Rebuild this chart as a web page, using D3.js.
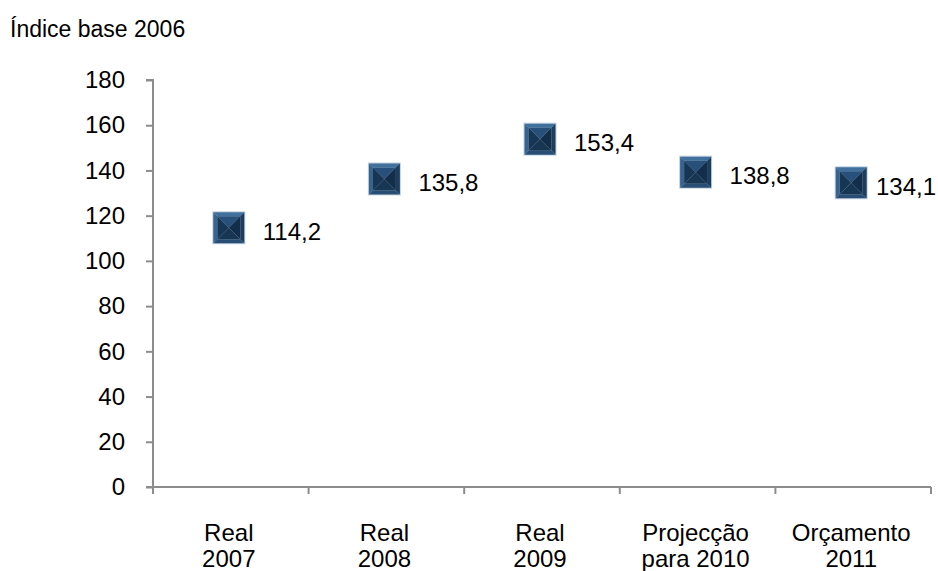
<!DOCTYPE html>
<html>
<head>
<meta charset="utf-8">
<script src="https://cdn.jsdelivr.net/npm/d3@7"></script>
<style>
  html, body { margin: 0; padding: 0; background: #fff; }
  svg { display: block; font-family: Arial, "Liberation Sans", sans-serif; }
</style>
</head>
<body>
<svg id="chart" width="938" height="571"></svg>
<script>
// Index values (base 2006 = 100)
const categories = [["Real", "2007"], ["Real", "2008"], ["Real", "2009"], ["Projecção", "para 2010"], ["Orçamento", "2011"]];
const values = [114.2, 135.8, 153.4, 138.8, 134.1];
const valueLabels = ["114,2", "135,8", "153,4", "138,8", "134,1"];
const yTicks = [0, 20, 40, 60, 80, 100, 120, 140, 160, 180];
const yTitle = "Índice base 2006";

const W = 938, H = 571;
const svg = d3.select("#chart");
const plot = { left: 153, right: 931, top: 80, bottom: 487 };

const x = d3.scaleBand()
  .domain(d3.range(categories.length))
  .range([plot.left, plot.right])
  .paddingInner(0).paddingOuter(0);

const y = d3.scaleLinear().domain([0, 180]).range([plot.bottom, plot.top]);

const axisColor = "#8c8c8c";

// Title
svg.append("text")
  .attr("x", 10).attr("y", 37)
  .attr("font-size", 23).attr("fill", "#000")
  .text(yTitle);

// Y axis
const yAxis = svg.append("g")
  .attr("transform", `translate(${plot.left},0)`)
  .call(d3.axisLeft(y).tickValues(yTicks).tickSize(7).tickPadding(21).tickFormat(d3.format("d")));
yAxis.select(".domain").attr("stroke", axisColor).attr("stroke-width", 2)
  .attr("d", `M-7,${plot.top}H0V${plot.bottom + 7}`);
yAxis.selectAll(".tick line").attr("stroke", axisColor).attr("stroke-width", 2);
yAxis.selectAll(".tick text").attr("font-size", 24).attr("fill", "#000")
  .attr("font-family", "Arial, 'Liberation Sans', sans-serif");

// X axis: ticks at category boundaries
const boundaries = d3.range(categories.length + 1).map(i => plot.left + i * x.step());
const xg = svg.append("g");
xg.append("line")
  .attr("x1", plot.left - 7).attr("x2", plot.right)
  .attr("y1", plot.bottom).attr("y2", plot.bottom)
  .attr("stroke", axisColor).attr("stroke-width", 2);
xg.selectAll("line.tk").data(boundaries.slice(1)).join("line")
  .attr("class", "tk")
  .attr("x1", d => d).attr("x2", d => d)
  .attr("y1", plot.bottom).attr("y2", plot.bottom + 7)
  .attr("stroke", axisColor).attr("stroke-width", 2);

xg.selectAll("text.cat").data(categories).join("text")
  .attr("class", "cat")
  .attr("text-anchor", "middle")
  .attr("font-size", 24).attr("fill", "#000")
  .each(function(d, i) {
    const t = d3.select(this);
    d.forEach((line, k) => {
      t.append("tspan")
        .attr("x", x(i) + x.bandwidth() / 2 - 2)
        .attr("y", 541 + k * 26)
        .text(line);
    });
  });

// Bevelled square marker
const s = 31, b = 4;
function facet(pts) { return "M" + pts.map(p => p.join(",")).join("L") + "Z"; }
const h = s / 2, hi = s / 2 - b;

const markers = svg.append("g").selectAll("g.mk").data(values).join("g")
  .attr("class", "mk")
  .attr("transform", (d, i) => `translate(${x(i) + x.bandwidth() / 2 - 2},${y(d) - 1})`);

// soft outer edge
markers.append("rect")
  .attr("x", -h - 1).attr("y", -h - 1).attr("width", s + 2).attr("height", s + 2)
  .attr("fill", "#c3d1df");
// outer bevels
markers.append("path").attr("d", facet([[-h, -h], [h, -h], [hi, -hi], [-hi, -hi]])).attr("fill", "#41709d");
markers.append("path").attr("d", facet([[-h, -h], [-hi, -hi], [-hi, hi], [-h, h]])).attr("fill", "#36638f");
markers.append("path").attr("d", facet([[h, -h], [h, h], [hi, hi], [hi, -hi]])).attr("fill", "#1d3d5e");
markers.append("path").attr("d", facet([[-h, h], [-hi, hi], [hi, hi], [h, h]])).attr("fill", "#284e75");
// inner pyramid
markers.append("path").attr("d", facet([[-hi, -hi], [hi, -hi], [0, 0]])).attr("fill", "#27507a");
markers.append("path").attr("d", facet([[-hi, -hi], [0, 0], [-hi, hi]])).attr("fill", "#173653");
markers.append("path").attr("d", facet([[hi, -hi], [hi, hi], [0, 0]])).attr("fill", "#132e4a");
markers.append("path").attr("d", facet([[-hi, hi], [0, 0], [hi, hi]])).attr("fill", "#173653");

// Value labels to the right of each marker, kept inside the chart width
svg.append("g").selectAll("text.val").data(values).join("text")
  .attr("class", "val")
  .attr("font-size", 24).attr("fill", "#000")
  .attr("y", d => y(d) + 11)
  .text((d, i) => valueLabels[i])
  .each(function(d, i) {
    const cx = x(i) + x.bandwidth() / 2 - 2;
    const w = this.getComputedTextLength();
    const px = Math.min(cx + 34, W - w - 2);
    d3.select(this).attr("x", px);
  });
</script>
</body>
</html>
